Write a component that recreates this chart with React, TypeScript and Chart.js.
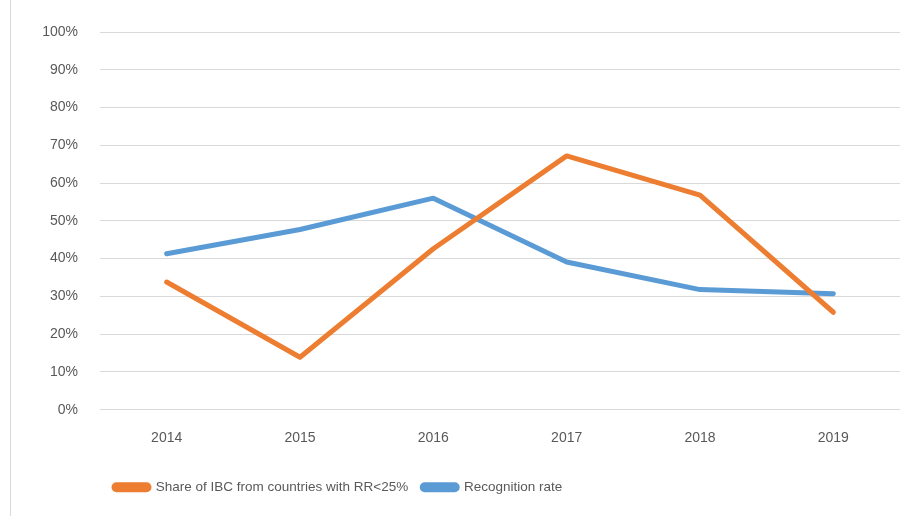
import React, { useEffect, useRef } from "react";
import { Chart, registerables } from "chart.js";

Chart.register(...registerables);

const years = ["2014", "2015", "2016", "2017", "2018", "2019"];
const shareIBC = [33.8, 13.9, 42.6, 67.2, 56.8, 25.8];
const recognitionRate = [41.3, 47.7, 56.0, 39.1, 31.8, 30.7];
const seriesNames = ["Share of IBC from countries with RR<25%", "Recognition rate"];

const FONT = "'Liberation Sans', Arial, sans-serif";
const TEXT = "#595959";
const GRID = "#d9d9d9";

export default function App() {
  const ref = useRef<HTMLCanvasElement | null>(null);

  useEffect(() => {
    if (!ref.current) return;
    const chart = new Chart(ref.current, {
      type: "line",
      data: {
        labels: years,
        datasets: [
          {
            label: seriesNames[0],
            data: shareIBC,
            borderColor: "#ED7D31",
            backgroundColor: "#ED7D31",
            borderWidth: 5,
            pointRadius: 0,
            borderCapStyle: "round",
            borderJoinStyle: "round",
            tension: 0,
          },
          {
            label: seriesNames[1],
            data: recognitionRate,
            borderColor: "#5B9BD5",
            backgroundColor: "#5B9BD5",
            borderWidth: 5,
            pointRadius: 0,
            borderCapStyle: "round",
            borderJoinStyle: "round",
            tension: 0,
          },
        ],
      },
      options: {
        animation: false,
        responsive: true,
        maintainAspectRatio: false,
        layout: { padding: { top: 32, right: 9, bottom: 12, left: 0 } },
        plugins: {
          tooltip: { enabled: false },
          legend: {
            position: "bottom",
            align: "start",
            fullSize: false,
            labels: {
              boxWidth: 35,
              boxHeight: 5,
              useBorderRadius: true,
              borderRadius: 2.5,
              padding: 14,
              color: TEXT,
              font: { family: FONT, size: 13.5 },
            },
          },
        },
        scales: {
          x: {
            offset: true,
            grid: { display: false, drawTicks: false },
            border: { display: false },
            ticks: { color: TEXT, font: { family: FONT, size: 14 }, padding: 20 },
          },
          y: {
            min: 0,
            max: 100,
            afterFit: (scale: any) => {
              scale.width = 100;
            },
            grid: { color: GRID, lineWidth: 1, drawTicks: false },
            border: { display: false },
            ticks: {
              stepSize: 10,
              color: TEXT,
              font: { family: FONT, size: 14 },
              padding: 22,
              callback: (v: any) => v + "%",
            },
          },
        },
      },
    });
    return () => chart.destroy();
  }, []);

  return (
    <div
      style={{
        position: "fixed",
        left: 0,
        top: 0,
        width: 909,
        height: 516,
        background: "#fff",
      }}
    >
      <div
        style={{
          position: "absolute",
          left: 10,
          top: 0,
          width: 0,
          height: 516,
          borderLeft: "1px solid " + GRID,
        }}
      />
      <canvas ref={ref} />
    </div>
  );
}
